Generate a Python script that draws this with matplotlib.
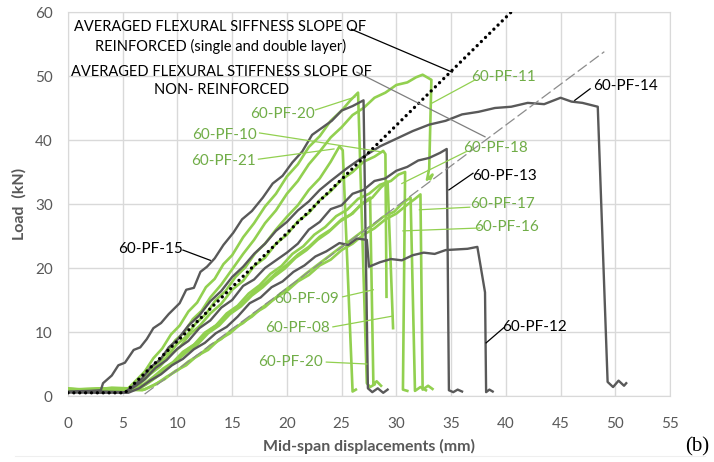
import matplotlib.pyplot as plt
import matplotlib.lines as mlines

# colours
gray = "#595959"
green = "#92D050"
green_txt = "#70AD47"

# ---- gray specimens ----
pf15_x = [0, 2, 3.0, 3.2, 4.0, 4.6, 5.2, 6.0, 6.6, 7.2, 7.8, 8.5, 9.2, 10.2, 10.8, 11.5, 12.1, 12.7, 13.4, 14.2,
          15.1, 15.9, 16.8, 17.8, 18.7, 19.6, 20.5, 21.4, 22.3, 23.2, 24.1, 25.0, 26.0, 27.0, 27.4, 27.8, 28.3, 28.8, 29.2]
pf15_y = [0.7, 0.8, 0.9, 2.0, 3.2, 4.8, 5.2, 7.2, 7.6, 8.9, 10.6, 11.4, 12.8, 14.5, 16.6, 16.9, 19.4, 20.2, 21.5, 23.6,
          25.5, 27.6, 28.9, 31.0, 33.2, 34.4, 36.5, 38.2, 40.8, 41.9, 43.0, 44.6, 45.3, 46.2, 1.2, 0.6, 1.2, 0.5, 1.0]

pf14_x = [0, 3, 5.2, 6.0, 6.8, 7.6, 8.4, 9.2, 10.0, 11.0, 12.0, 13.0, 14.0, 15.0, 16.0, 17.0, 18.0, 19.0, 20.0, 21.0,
          22.0, 23.0, 24.0, 25.5, 27.0, 28.5, 30.0, 31.5, 33.0, 34.5, 36.0, 37.5, 39.0, 40.5, 42.0, 43.5, 45.0, 46.0,
          47.0, 48.4, 49.3, 49.8, 50.3, 50.8, 51.0]
pf14_y = [0.6, 0.7, 0.6, 1.6, 2.8, 4.6, 5.6, 7.6, 8.8, 11.0, 12.6, 14.8, 16.4, 18.6, 20.2, 22.2, 23.8, 25.8, 27.2, 29.0,
          30.4, 32.2, 33.6, 35.6, 37.4, 39.0, 40.2, 41.4, 42.4, 43.0, 44.0, 44.4, 45.0, 45.2, 45.8, 45.6, 46.6, 46.0,
          45.8, 45.2, 2.2, 1.4, 2.4, 1.6, 2.0]

pf13_x = [0, 3, 5.3, 6.2, 7.0, 8.0, 9.0, 10.0, 11.0, 12.0, 13.0, 14.0, 15.0, 16.0, 17.0, 18.0, 19.0, 20.0, 21.0, 22.0,
          23.0, 24.0, 25.0, 26.0, 27.0, 28.0, 29.0, 30.0, 31.0, 32.0, 33.0, 34.0, 34.6, 34.8, 35.2, 35.6, 36.0]
pf13_y = [0.6, 0.5, 0.6, 1.6, 2.6, 4.4, 5.6, 7.4, 8.6, 10.6, 11.8, 13.8, 15.0, 17.2, 18.2, 20.0, 21.2, 22.4, 23.8, 26.0,
          27.2, 29.2, 29.8, 31.6, 32.2, 33.6, 34.0, 35.2, 35.8, 36.8, 37.2, 38.0, 38.6, 0.9, 0.6, 1.0, 0.7]

pf12_x = [0, 3, 5.5, 6.5, 7.5, 8.5, 9.5, 10.5, 11.5, 12.5, 13.5, 14.5, 15.5, 16.6, 17.6, 18.6, 19.6, 20.6, 21.6, 22.6,
          23.6, 24.8, 25.6, 26.4, 27.3, 27.5, 28.5, 29.5, 30.5, 31.5, 32.5, 33.5, 34.5, 35.5, 36.5, 37.4, 38.1, 38.2,
          38.5, 38.8]
pf12_y = [0.6, 0.6, 0.5, 1.2, 2.4, 3.4, 4.8, 5.8, 7.3, 8.3, 9.8, 10.8, 12.4, 14.5, 15.4, 17.0, 17.9, 19.4, 20.4, 21.8,
          22.6, 23.9, 23.6, 24.6, 24.4, 20.2, 20.9, 21.4, 21.2, 22.0, 22.4, 22.2, 22.8, 22.9, 23.0, 23.3, 16.2, 0.6,
          1.0, 0.7]

# ---- green specimens ----
pf20a_x = [0, 2, 4, 5.5, 6.2, 7.0, 7.8, 8.6, 9.4, 10.2, 11.0, 11.8, 12.6, 13.4, 14.2, 15.0, 16.0, 17.0, 18.0, 19.0,
           20.0, 21.0, 22.0, 23.0, 24.0, 25.0, 25.8, 26.5, 27.3, 27.6, 28.0]
pf20a_y = [1.2, 0.9, 1.3, 1.2, 2.4, 3.8, 5.9, 7.4, 9.6, 11.0, 13.2, 14.6, 17.0, 18.3, 20.6, 22.0, 24.8, 27.0, 29.6, 31.6,
           34.3, 36.2, 38.9, 40.6, 43.0, 44.6, 46.2, 47.4, 2.0, 1.4, 1.8]

pf11_x = [0, 3, 5.8, 6.6, 7.4, 8.2, 9.0, 9.8, 10.6, 11.4, 12.2, 13.0, 14.0, 15.0, 16.0, 17.0, 18.0, 19.0, 20.0, 21.0,
          22.0, 23.0, 24.0, 25.0, 26.0, 27.0, 28.0, 29.0, 30.0, 31.0, 31.8, 32.4, 33.2, 33.0, 32.8, 33.3, 33.1]
pf11_y = [1.0, 1.1, 1.0, 2.3, 3.6, 5.4, 6.6, 8.7, 9.9, 12.0, 13.3, 15.4, 17.4, 19.8, 22.2, 24.4, 27.0, 29.0, 31.6, 33.6,
          36.2, 38.2, 40.4, 42.0, 43.9, 45.0, 46.6, 47.4, 48.6, 49.0, 49.8, 50.2, 49.4, 35.5, 33.8, 34.6, 33.9]

pf21_x = [0, 3, 5.7, 6.5, 7.3, 8.1, 9.0, 9.9, 10.8, 11.7, 12.6, 13.5, 14.4, 15.3, 16.2, 17.1, 18.0, 19.0, 20.0, 21.0,
          22.0, 23.0, 24.0, 24.8, 25.1, 26.0, 26.3]
pf21_y = [1.1, 0.9, 1.0, 2.0, 3.2, 4.9, 6.0, 8.0, 9.3, 11.4, 12.8, 15.0, 16.4, 18.6, 20.1, 22.3, 23.8, 26.0, 28.0, 29.8,
          32.2, 34.0, 36.6, 39.0, 38.4, 0.7, 1.0]

pf10_x = [0, 3, 5.8, 6.6, 7.5, 8.4, 9.3, 10.2, 11.1, 12.0, 13.0, 14.0, 15.0, 16.0, 17.0, 18.0, 19.0, 20.0, 21.0, 22.0,
          23.0, 24.0, 25.0, 26.0, 27.0, 28.0, 28.8, 29.0, 29.1]
pf10_y = [1.0, 1.2, 1.0, 1.9, 3.4, 4.6, 6.4, 7.6, 9.6, 10.9, 12.9, 14.4, 16.6, 18.0, 20.3, 21.6, 23.8, 25.2, 27.3, 28.6,
          30.6, 32.0, 33.8, 35.0, 36.6, 37.4, 38.3, 37.8, 15.5]

pf18_x = [0, 3, 6.0, 6.9, 7.8, 8.7, 9.6, 10.5, 11.5, 12.5, 13.5, 14.5, 15.5, 16.5, 17.5, 18.5, 19.5, 20.5, 21.5, 22.5,
          23.5, 24.5, 25.5, 26.5, 27.5, 28.5, 29.5, 30.2, 30.8, 30.6, 31.0]
pf18_y = [0.9, 1.1, 1.0, 1.8, 3.0, 4.3, 5.3, 6.9, 8.0, 9.9, 11.0, 12.9, 14.1, 16.0, 17.3, 19.1, 20.3, 22.2, 23.4, 25.2,
          26.4, 28.1, 29.1, 30.8, 31.6, 33.0, 33.6, 34.6, 35.0, 1.0, 0.8]

pf08_x = [0, 3, 6.2, 7.1, 8.0, 8.9, 9.8, 10.8, 11.8, 12.8, 13.8, 14.8, 15.8, 16.8, 17.8, 18.8, 19.8, 20.8, 21.8, 22.8,
          23.8, 24.8, 25.8, 26.8, 27.8, 28.6, 29.2, 29.7]
pf08_y = [1.0, 0.8, 1.0, 1.8, 2.9, 4.2, 5.3, 6.8, 8.0, 9.8, 11.0, 12.8, 14.0, 15.7, 17.0, 18.6, 19.9, 21.6, 22.8, 24.4,
          25.6, 27.2, 28.3, 29.9, 31.0, 32.6, 33.5, 10.6]

pf09_x = [0, 3, 6.4, 7.3, 8.2, 9.1, 10.0, 11.0, 12.0, 13.0, 14.0, 15.0, 16.0, 17.0, 18.0, 19.0, 20.0, 21.0, 22.0, 23.0,
          24.0, 25.0, 26.0, 26.8, 27.6, 27.9, 28.2, 28.6]
pf09_y = [1.1, 0.9, 1.0, 2.0, 3.1, 4.6, 5.6, 7.4, 8.6, 10.4, 11.6, 13.4, 14.6, 16.3, 17.6, 19.2, 20.5, 22.1, 23.3, 24.9,
          26.0, 27.6, 28.5, 30.0, 31.0, 1.8, 2.3, 1.6]

pf16_x = [0, 3, 6.8, 7.8, 8.8, 9.8, 10.8, 11.8, 12.8, 13.8, 14.8, 15.8, 16.8, 17.8, 18.8, 19.8, 20.8, 21.8, 22.8, 23.8,
          24.8, 25.8, 26.8, 27.8, 28.8, 29.8, 30.6, 31.3, 31.7, 32.2, 32.7]
pf16_y = [1.0, 1.1, 0.9, 1.7, 2.6, 3.9, 4.8, 6.3, 7.2, 8.8, 9.8, 11.3, 12.4, 13.9, 15.1, 16.5, 17.8, 19.2, 20.5, 21.8,
          23.1, 24.3, 25.6, 26.6, 28.0, 28.8, 30.2, 31.0, 0.8, 1.4, 0.9]

pf17_x = [0, 3, 7.0, 8.0, 9.0, 10.0, 11.0, 12.0, 13.0, 14.0, 15.0, 16.0, 17.0, 18.0, 19.0, 20.0, 21.0, 22.0, 23.0, 24.0,
          25.0, 26.0, 27.0, 28.0, 29.0, 30.0, 31.0, 31.7, 32.2, 32.4, 32.9, 33.3]
pf17_y = [0.9, 1.0, 1.0, 1.8, 3.0, 4.0, 5.4, 6.4, 7.9, 8.9, 10.4, 11.4, 12.9, 13.9, 15.4, 16.4, 17.9, 18.9, 20.4, 21.3,
          22.8, 23.8, 25.2, 26.2, 27.6, 28.5, 29.9, 30.8, 31.5, 1.0, 1.6, 1.1]

# averaged slopes
reinf_x = [0, 5.2, 40.5]
reinf_y = [0.5, 0.5, 60]
nonreinf_x = [7.0, 49.0]
nonreinf_y = [0.3, 53.8]

# labels: text, text position, leader start, leader end, colour
labels = [
    ("60-PF-20", (19.6, 44.1), (22.6, 44.7), (26.2, 46.7), green_txt),
    ("60-PF-10", (14.3, 40.8), (17.5, 41.1), (28.8, 38.1), green_txt),
    ("60-PF-21", (14.2, 36.7), (17.4, 37.0), (24.3, 38.6), green_txt),
    ("60-PF-11", (39.8, 49.8), (37.2, 49.4), (33.3, 45.8), green_txt),
    ("60-PF-14", (50.9, 48.4), (47.7, 48.0), (46.3, 46.2), "black"),
    ("60-PF-18", (39.1, 38.7), (36.4, 38.2), (30.5, 33.2), green_txt),
    ("60-PF-13", (39.9, 34.4), (37.0, 34.8), (34.8, 32.2), "black"),
    ("60-PF-17", (39.7, 30.0), (36.7, 29.5), (32.1, 29.1), green_txt),
    ("60-PF-16", (40.1, 26.4), (37.6, 26.25), (30.6, 25.8), green_txt),
    ("60-PF-09", (21.8, 15.2), (25.1, 15.5), (27.9, 16.6), green_txt),
    ("60-PF-08", (21.0, 10.6), (24.2, 10.8), (29.7, 12.5), green_txt),
    ("60-PF-20", (20.3, 5.3), (23.6, 5.3), (27.3, 5.0), green_txt),
    ("60-PF-15", (7.5, 23.0), (10.5, 22.8), (13.0, 21.2), "black"),
    ("60-PF-12", (42.6, 10.8), (39.9, 10.8), (38.2, 8.3), "black"),
]

plt.rcParams['font.family'] = ['Lato', 'DejaVu Sans']

fig = plt.figure(figsize=(7.14, 4.62), dpi=100)
ax = fig.add_axes([68 / 714, 66 / 462, 602 / 714, 384 / 462])

greens = [(pf20a_x, pf20a_y), (pf11_x, pf11_y), (pf21_x, pf21_y), (pf10_x, pf10_y), (pf18_x, pf18_y),
          (pf08_x, pf08_y), (pf09_x, pf09_y), (pf16_x, pf16_y), (pf17_x, pf17_y)]
grays = [(pf15_x, pf15_y), (pf14_x, pf14_y), (pf13_x, pf13_y), (pf12_x, pf12_y)]

for gx, gy in greens:
    ax.plot(gx, gy, color=green, lw=1.9, zorder=3)
for gx, gy in grays:
    ax.plot(gx, gy, color=gray, lw=1.7, zorder=4)

ax.plot(nonreinf_x, nonreinf_y, color="#8C8C8C", lw=0.9, ls=(0, (9, 3)), zorder=5)
ax.plot(reinf_x, reinf_y, color="black", lw=2.4, ls=(0, (0.01, 1.75)), dash_capstyle="round", zorder=6)

for txt, pos, p0, p1, c in labels:
    ax.text(pos[0], pos[1], txt, color=c, fontsize=11, ha="center", va="center", zorder=7)
    lc = green if c != "black" else "black"
    ax.plot([p0[0], p1[0]], [p0[1], p1[1]], color=lc, lw=0.9, zorder=7)

ax.text(13.9, 56.1, "AVERAGED FLEXURAL SIFFNESS SLOPE OF\nREINFORCED (single and double layer)",
        fontsize=10.5, ha="center", va="center", linespacing=1.35, zorder=7)
ax.plot([25.9, 35.1], [57.3, 50.6], color="black", lw=0.9, zorder=7)
ax.text(14.0, 49.2, "AVERAGED FLEXURAL STIFFNESS SLOPE OF\nNON- REINFORCED",
        fontsize=10.5, ha="center", va="center", linespacing=1.35, zorder=7)
ax.plot([26.4, 38.1], [50.6, 40.5], color="#7F7F7F", lw=0.9, zorder=7)

ax.set_xlim(0, 55)
ax.set_ylim(0, 60)
ax.set_xticks(range(0, 56, 5))
ax.set_yticks(range(0, 61, 10))
ax.grid(True, color="#D9D9D9", lw=1)
ax.set_axisbelow(True)
for s in ax.spines.values():
    s.set_color("#D9D9D9")
ax.tick_params(length=0, labelsize=11, labelcolor=gray)
ax.tick_params(axis="x", pad=15)
ax.tick_params(axis="y", pad=11)
ax.set_xlabel("Mid-span displacements (mm)", fontsize=11.5, fontweight="bold", color=gray, labelpad=6)
ax.set_ylabel("Load  (kN)", fontsize=11.5, fontweight="bold", color=gray, labelpad=6)

fig.text(697 / 714, 1 - 447 / 462, "(b)", family="Liberation Serif", fontsize=15, ha="center", va="center")
fig.add_artist(mlines.Line2D([15 / 714, 705 / 714], [1 - 456 / 462] * 2, color="#EFEFEF", lw=0.8))

fig.savefig("out.png", dpi=100)
